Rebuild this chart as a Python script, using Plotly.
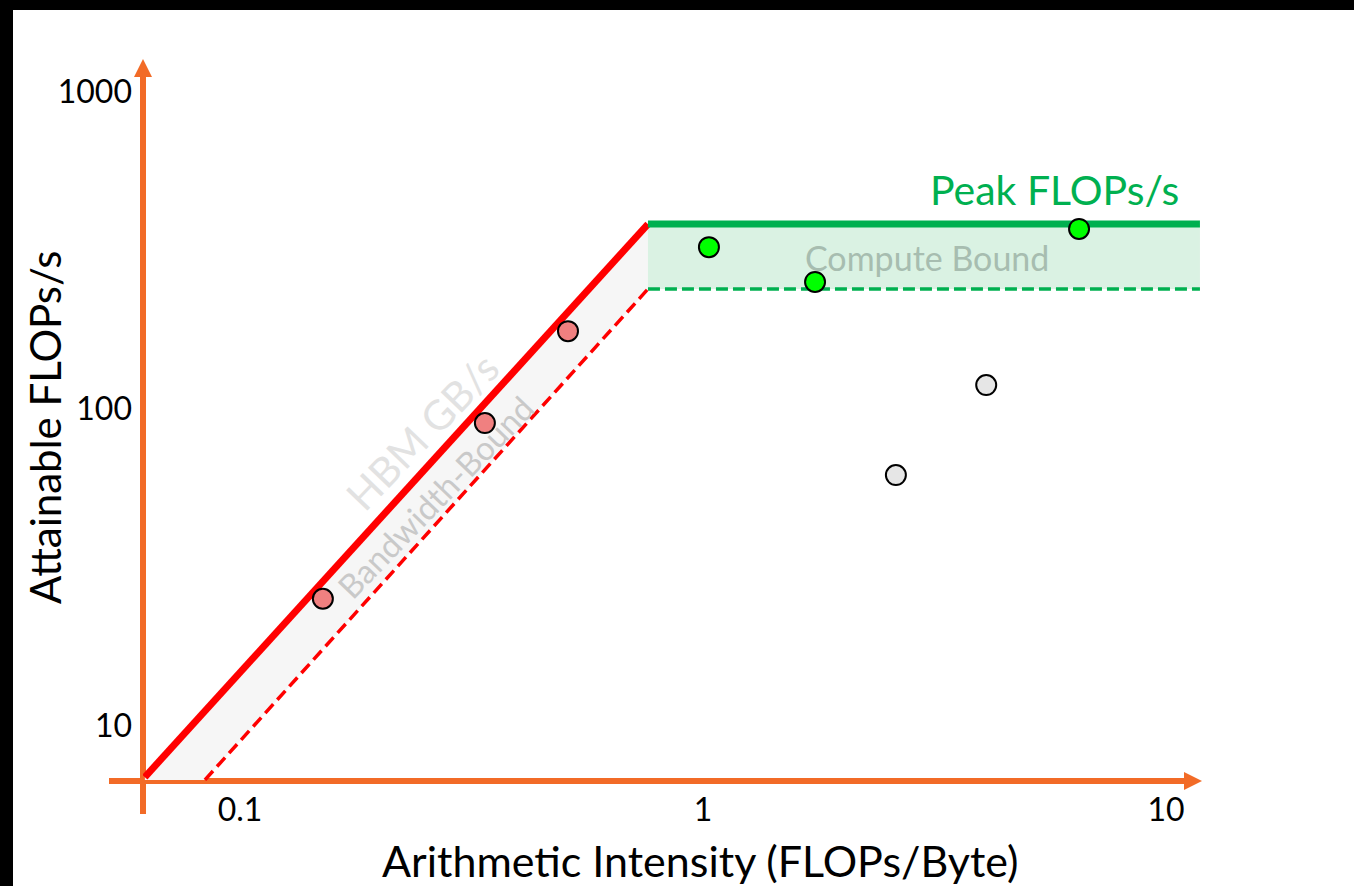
import math
import plotly.graph_objects as go

# ---------------- data ----------------
roof_x = [0.0623, 0.7606, 11.84]          # upper roof (HBM line + peak)
roof_y = [6.9, 383, 383]
lower_x = [0.084, 0.7606, 11.84]          # dashed lower bound
lower_y = [6.76, 239, 239]

bw_pts_x = [0.151, 0.338, 0.511]          # bandwidth-bound kernels
bw_pts_y = [25.2, 90.3, 176]
cb_pts_x = [1.03, 1.746, 6.49]            # compute-bound kernels
cb_pts_y = [324, 251.6, 369.7]
other_x = [2.61, 4.09]                    # other kernels
other_y = [61.9, 119]

x_tickvals = [0.1, 1, 10]
x_ticktext = ["0.1", "1", "10"]
y_tickvals = [10, 100, 1000]
y_ticktext = ["10", "100", "1000"]

# ---------------- layout geometry (pixels) ----------------
W, H = 1354, 886
L, R, T, B = 143, 1202, 59, 781
PW, PH = R - L, B - T

def px(xp):
    return (xp - L) / PW

def py(yp):
    return (B - yp) / PH

lg = math.log10
ORANGE = "#F26B27"
FONT = "Lato"

fig = go.Figure()

# shaded bandwidth-bound region
fig.add_trace(go.Scatter(
    x=[roof_x[0], roof_x[1], lower_x[1], lower_x[0], roof_x[0]],
    y=[roof_y[0], roof_y[1], lower_y[1], lower_y[0], lower_y[0]],
    fill="toself", fillcolor="#F6F6F6", line=dict(width=0),
    mode="lines", hoverinfo="skip", showlegend=False))

# shaded compute-bound region
fig.add_trace(go.Scatter(
    x=[roof_x[1], roof_x[2], lower_x[2], lower_x[1], roof_x[1]],
    y=[roof_y[1], roof_y[2], lower_y[2], lower_y[1], roof_y[1]],
    fill="toself", fillcolor="#DAF2E3", line=dict(width=0),
    mode="lines", hoverinfo="skip", showlegend=False))

# red bandwidth lines
fig.add_trace(go.Scatter(x=roof_x[:2], y=roof_y[:2], mode="lines",
                         line=dict(color="#FF0000", width=7),
                         showlegend=False))
fig.add_trace(go.Scatter(x=lower_x[:2], y=lower_y[:2], mode="lines",
                         line=dict(color="#FF0000", width=3.5, dash="12px,6px"),
                         showlegend=False))
# green compute lines
fig.add_trace(go.Scatter(x=roof_x[1:], y=roof_y[1:], mode="lines",
                         line=dict(color="#00B050", width=7),
                         showlegend=False))
fig.add_trace(go.Scatter(x=lower_x[1:], y=lower_y[1:], mode="lines",
                         line=dict(color="#00B050", width=3.5, dash="12px,5px"),
                         showlegend=False))

# points
fig.add_trace(go.Scatter(x=bw_pts_x, y=bw_pts_y, mode="markers",
                         marker=dict(size=20, color="#F08080",
                                     line=dict(color="black", width=2)),
                         showlegend=False))
fig.add_trace(go.Scatter(x=cb_pts_x, y=cb_pts_y, mode="markers",
                         marker=dict(size=20, color="#00FF00",
                                     line=dict(color="black", width=2)),
                         showlegend=False))
fig.add_trace(go.Scatter(x=other_x, y=other_y, mode="markers",
                         marker=dict(size=20, color="#E6E6E6",
                                     line=dict(color="black", width=2)),
                         showlegend=False))

shapes = []
# black frame strips (top and left)
shapes.append(dict(type="rect", xref="paper", yref="paper",
                   x0=px(0), x1=px(W), y0=py(10), y1=py(0),
                   fillcolor="black", line=dict(width=0), layer="above"))
shapes.append(dict(type="rect", xref="paper", yref="paper",
                   x0=px(0), x1=px(13), y0=py(H), y1=py(0),
                   fillcolor="black", line=dict(width=0), layer="above"))
# orange y axis with arrow
shapes.append(dict(type="line", xref="paper", yref="paper",
                   x0=px(143), x1=px(143), y0=py(814), y1=py(74),
                   line=dict(color=ORANGE, width=6), layer="below"))
shapes.append(dict(type="path", xref="paper", yref="paper",
                   path=f"M {px(134)},{py(77)} L {px(152)},{py(77)} L {px(143)},{py(59)} Z",
                   fillcolor=ORANGE, line=dict(width=0), layer="below"))
# orange x axis with arrow
shapes.append(dict(type="line", xref="paper", yref="paper",
                   x0=px(109), x1=px(1186), y0=py(781), y1=py(781),
                   line=dict(color=ORANGE, width=6), layer="below"))
shapes.append(dict(type="path", xref="paper", yref="paper",
                   path=f"M {px(1184)},{py(772)} L {px(1184)},{py(790)} L {px(1202)},{py(781)} Z",
                   fillcolor=ORANGE, line=dict(width=0), layer="below"))

annotations = [
    dict(text="Peak FLOPs/s", x=lg(5.73), y=lg(490.8), xref="x", yref="y",
         xanchor="center", yanchor="middle", showarrow=False,
         font=dict(family=FONT, size=41, color="#00B050")),
    dict(text="Compute Bound", x=lg(3.05), y=lg(300), xref="x", yref="y",
         xanchor="center", yanchor="middle", showarrow=False,
         font=dict(family=FONT, size=34, color="#A7BDB0")),
    dict(text="HBM GB/s", x=lg(0.247), y=lg(85.2), xref="x", yref="y",
         xanchor="center", yanchor="middle", showarrow=False, textangle=-46,
         font=dict(family=FONT, size=41, color="#E2E2E2")),
    dict(text="Bandwidth-Bound", x=lg(0.2637), y=lg(52.8), xref="x", yref="y",
         xanchor="center", yanchor="middle", showarrow=False, textangle=-46,
         font=dict(family=FONT, size=33, color="#C9C9C9")),
    dict(text="Arithmetic Intensity (FLOPs/Byte)", x=px(700), y=py(860),
         xref="paper", yref="paper", xanchor="center", yanchor="middle",
         showarrow=False, font=dict(family=FONT, size=43, color="black")),
    dict(text="Attainable FLOPs/s", x=px(45), y=py(427),
         xref="paper", yref="paper", xanchor="center", yanchor="middle",
         showarrow=False, textangle=-90,
         font=dict(family=FONT, size=42, color="black")),
]

fig.update_layout(
    width=W, height=H,
    margin=dict(l=L, r=W - R, t=T, b=H - B, pad=0),
    paper_bgcolor="white", plot_bgcolor="white",
    shapes=shapes, annotations=annotations,
    showlegend=False,
    xaxis=dict(type="log", range=[-1.2095, 1.0778], showgrid=False,
               zeroline=False, showline=False, ticks="",
               tickvals=x_tickvals, ticktext=x_ticktext,
               ticklabelstandoff=7,
               tickfont=dict(family=FONT, size=32, color="black")),
    yaxis=dict(type="log", range=[0.8265, 3.104], showgrid=False,
               zeroline=False, showline=False, ticks="",
               tickvals=y_tickvals, ticktext=y_ticktext,
               ticklabelstandoff=10,
               tickfont=dict(family=FONT, size=32, color="black")),
)

fig.write_html(
    "out.html",
    config={"displayModeBar": False},
    post_script="document.body.style.margin='0';document.body.style.overflow='hidden';",
)
